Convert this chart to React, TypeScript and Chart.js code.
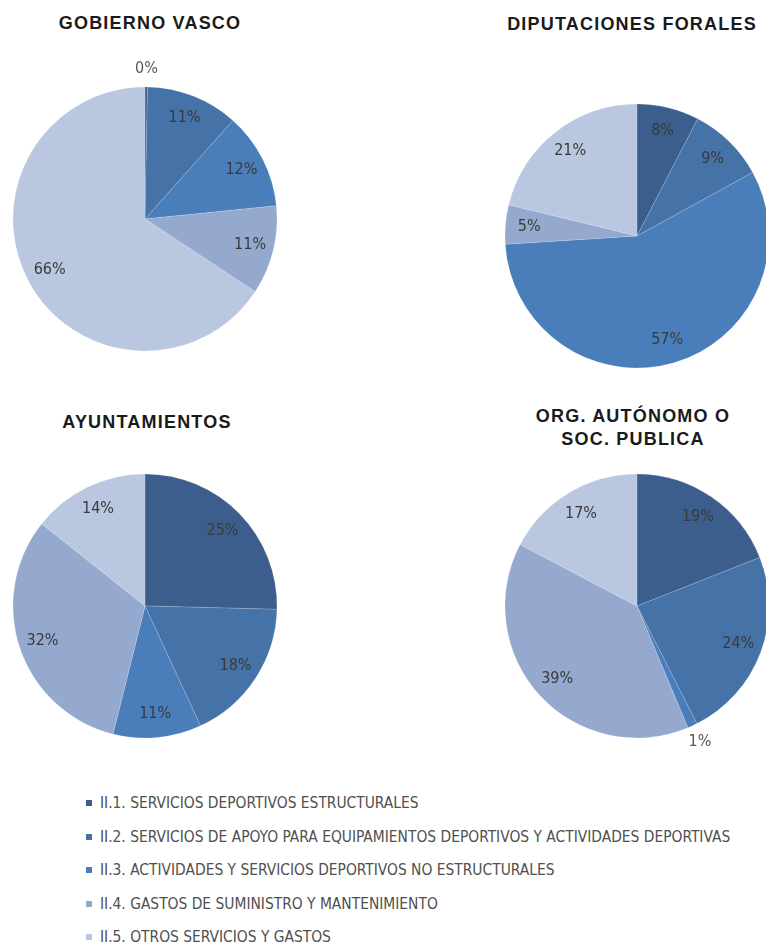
import React, { useEffect, useRef } from "react";
import { Chart, registerables } from "chart.js";

Chart.register(...registerables);

// ---- DATA ----
const categories = [
  "II.1. SERVICIOS DEPORTIVOS ESTRUCTURALES",
  "II.2. SERVICIOS DE APOYO PARA EQUIPAMIENTOS DEPORTIVOS Y ACTIVIDADES DEPORTIVAS",
  "II.3. ACTIVIDADES Y SERVICIOS DEPORTIVOS NO ESTRUCTURALES",
  "II.4. GASTOS DE SUMINISTRO Y MANTENIMIENTO",
  "II.5. OTROS SERVICIOS Y GASTOS",
];
const gobiernoVasco = [0.3, 11.3, 11.8, 10.9, 65.7];
const diputacionesForales = [7.6, 9.4, 57.0, 4.8, 21.2];
const ayuntamientos = [25.4, 17.7, 10.8, 31.8, 14.3];
const orgAutonomo = [19.0, 23.5, 1.2, 39.0, 17.3];
const sliceColors = ["#3b5e8c", "#4572a7", "#4a7ebb", "#95a9cf", "#bac7e0"];

const LABEL_FONT = '"Liberation Sans Narrow", "Arial Narrow", "DejaVu Sans Condensed", sans-serif';
const TITLE_FONT = '"Liberation Sans", Arial, sans-serif';

const labelPlugin = {
  id: "sliceLabels",
  afterDatasetsDraw(chart: any) {
    const ctx = chart.ctx;
    const meta = chart.getDatasetMeta(0);
    const values: number[] = chart.data.datasets[0].data;
    const total = values.reduce((a, b) => a + b, 0);
    ctx.save();
    ctx.font = `16px ${LABEL_FONT}`;
    ctx.textAlign = "center";
    ctx.textBaseline = "middle";
    meta.data.forEach((arc: any, i: number) => {
      const p = arc.getProps(["x", "y", "startAngle", "endAngle", "outerRadius"], true);
      const mid = (p.startAngle + p.endAngle) / 2;
      const v = values[i];
      const pct = Math.round((v / total) * 100);
      const outside = v < 2;
      const rr = outside ? p.outerRadius + 18 : p.outerRadius * 0.82;
      ctx.fillStyle = outside ? "#595959" : "#3a3a3a";
      ctx.fillText(pct + "%", p.x + Math.cos(mid) * rr, p.y + Math.sin(mid) * rr);
    });
    ctx.restore();
  },
};

type PieProps = { values: number[]; cx: number; cy: number };

const SIZE = 340;

function Pie({ values, cx, cy }: PieProps) {
  const ref = useRef<HTMLCanvasElement | null>(null);
  useEffect(() => {
    if (!ref.current) return;
    const chart = new Chart(ref.current, {
      type: "pie",
      data: {
        labels: categories,
        datasets: [
          {
            data: values,
            backgroundColor: sliceColors,
            borderColor: "rgba(255,255,255,0.25)",
            borderWidth: 0.6,
          },
        ],
      },
      options: {
        animation: false,
        responsive: false,
        devicePixelRatio: 1,
        radius: 132,
        layout: { padding: 0 },
        plugins: {
          legend: { display: false },
          tooltip: { enabled: false },
          title: { display: false },
        },
      } as any,
      plugins: [labelPlugin],
    });
    return () => chart.destroy();
  }, [values]);
  return (
    <canvas
      ref={ref}
      width={SIZE}
      height={SIZE}
      style={{
        position: "absolute",
        left: cx - SIZE / 2,
        top: cy - SIZE / 2,
        width: SIZE,
        height: SIZE,
      }}
    />
  );
}

function Title({ lines, cx, cy }: { lines: string[]; cx: number; cy: number }) {
  const lh = 23;
  return (
    <div
      style={{
        position: "absolute",
        left: cx - 200,
        width: 400,
        top: cy - (lines.length * lh) / 2,
        textAlign: "center",
        fontFamily: TITLE_FONT,
        fontWeight: "bold",
        fontSize: 18,
        letterSpacing: 1.2,
        lineHeight: lh + "px",
        color: "#1a1a1a",
        whiteSpace: "nowrap",
      }}
    >
      {lines.map((l, i) => (
        <div key={i}>{l}</div>
      ))}
    </div>
  );
}

export default function App() {
  return (
    <div
      style={{
        position: "absolute",
        left: 0,
        top: 0,
        width: 766,
        height: 944,
        overflow: "hidden",
        background: "#ffffff",
      }}
    >
      <Title lines={["GOBIERNO VASCO"]} cx={150} cy={23} />
      <Title lines={["DIPUTACIONES FORALES"]} cx={632} cy={24} />
      <Title lines={["AYUNTAMIENTOS"]} cx={147} cy={422} />
      <Title lines={["ORG. AUTÓNOMO O", "SOC. PUBLICA"]} cx={633} cy={428} />

      <Pie values={gobiernoVasco} cx={145} cy={219} />
      <Pie values={diputacionesForales} cx={637} cy={236} />
      <Pie values={ayuntamientos} cx={145} cy={606} />
      <Pie values={orgAutonomo} cx={637} cy={606} />

      {categories.map((c, i) => (
        <div
          key={c}
          style={{
            position: "absolute",
            left: 86,
            top: 803 + i * 33.5 - 10,
            height: 20,
            display: "flex",
            alignItems: "center",
            whiteSpace: "nowrap",
            fontFamily: LABEL_FONT,
            fontSize: 15.4,
            color: "#505050",
          }}
        >
          <span
            style={{
              display: "inline-block",
              width: 6,
              height: 6,
              background: sliceColors[i],
              marginRight: 8,
            }}
          />
          <span>{c}</span>
        </div>
      ))}
    </div>
  );
}
